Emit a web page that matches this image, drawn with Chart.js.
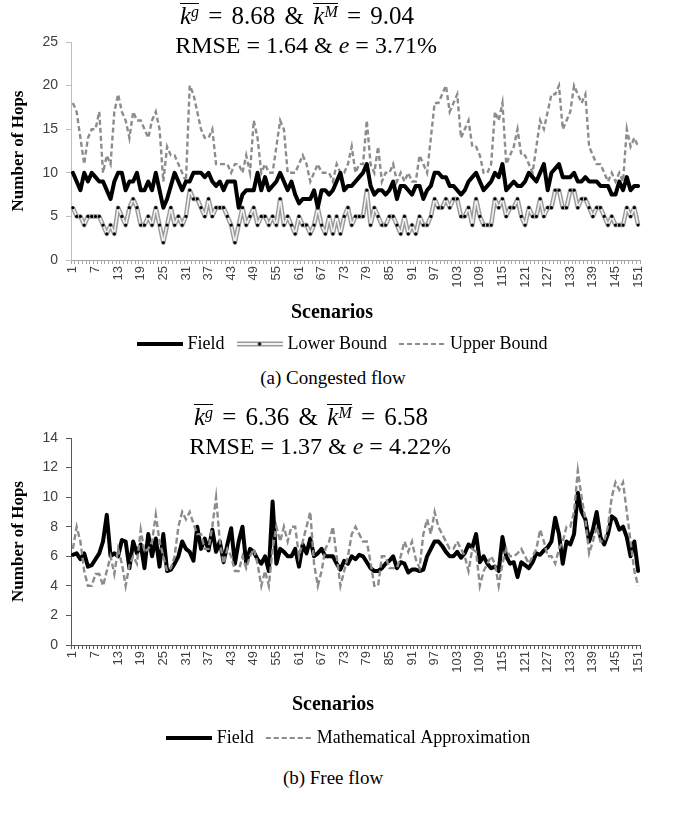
<!DOCTYPE html>
<html><head><meta charset="utf-8">
<script src="https://cdn.jsdelivr.net/npm/chart.js@4.4.1/dist/chart.umd.min.js"></script>
<style>
html,body{margin:0;padding:0;background:#fff;}
body{width:674px;height:823px;position:relative;overflow:hidden;font-family:'Liberation Serif','Times New Roman',serif;color:#000;}
.box{position:absolute;left:0;width:674px;}
.ttl{position:absolute;width:674px;text-align:center;font-family:'Liberation Serif','Times New Roman',serif;font-size:24px;line-height:26px;white-space:nowrap;}
.t1{font-size:25px;word-spacing:3px;}
.ov{display:inline-block;border-top:1.4px solid #000;line-height:22px;padding-top:1px;word-spacing:0;}
.ov sup{font-size:16px;vertical-align:7px;line-height:0;font-style:italic;}
.cap{position:absolute;width:674px;text-align:center;font-family:'Liberation Serif','Times New Roman',serif;font-size:19px;line-height:22px;white-space:nowrap;}
.xt{position:absolute;width:674px;text-align:center;font-family:'Liberation Serif','Times New Roman',serif;font-size:20px;font-weight:bold;line-height:24px;}
</style></head>
<body>
<div class="box" style="top:0;height:364px"><canvas id="c1"></canvas></div>
<div class="box" style="top:396px;height:362px"><canvas id="c2"></canvas></div>

<div class="ttl t1" style="top:3px;left:-40px"><span class="ov"><i>k</i><sup>g</sup></span> = 8.68 &amp; <span class="ov"><i>k</i><sup>M</sup></span> = 9.04</div>
<div class="ttl" style="top:32px;left:-31px">RMSE = 1.64 &amp; <i>e</i> = 3.71%</div>
<div class="xt" style="top:299px;left:-5px">Scenarios</div>
<div class="cap" style="top:367px;left:-4px">(a) Congested flow</div>

<div class="ttl t1" style="top:404px;left:-26px"><span class="ov"><i>k</i><sup>g</sup></span> = 6.36 &amp; <span class="ov"><i>k</i><sup>M</sup></span> = 6.58</div>
<div class="ttl" style="top:433px;left:-17px">RMSE = 1.37 &amp; <i>e</i> = 4.22%</div>
<div class="xt" style="top:691px;left:-4px">Scenarios</div>
<div class="cap" style="top:767px;left:-4px">(b) Free flow</div>

<script>
const scenarios = Array.from({length:151}, (_, i) => String(i + 1));
const shownTicks = [1,7,13,19,25,31,37,43,49,55,61,67,73,79,85,91,97,103,109,115,121,127,133,139,145,151];

const congestedField = [10,9,8,10,9,10,9.5,9,9,8,7,9,10,10,8,9,9,10,8,8,9,8,10,8,6,7,8.5,10,9,8,9,9,10,10,10,9.5,10,9,8.5,9,8,9,9,9,6,7.5,8,8,8,10,8,9.5,8,8.5,9,10,9,8,9,7.5,6.5,7,7,7,8,6,8,8,7.5,8,9,10,8,8.5,8.5,9,9.5,10,11,8.5,7.5,8,8,7.5,8,9,7,8.5,8.5,8,7.5,8.5,8.5,7,8,8.5,10,10,9.5,9.5,8.5,8.5,8,7.5,8,9,9.5,10,9,8,8.5,9,10,9.5,11,8,8.5,9,8.5,8.5,9,10,9.5,9,10,11,8,10,10.5,11,9.5,9.5,9.5,10,9,9,9.5,9,9,9,8.5,8.5,8.5,7.5,7.5,9,8,9.5,8,8.5,8.5];
const congestedLower = [6,5,5,4,5,5,5,5,4,3,4,3,6,5,4,6,7,6,4,4,5,4,6,4,2,4,6,4,5,4,5,8,7,7,6,5,7,5,6,6,6,5,4,2,4,6,4,5,6,4,5,5,4,5,4,7,4,5,4,3,5,4,4,3,4,6,4,3,5,3,5,3,5,6,4,5,5,5,8,4,6,5,4,4,5,5,4,3,5,3,4,3,5,4,4,5,7,6,6,7,6,7,7,5,5,6,4,7,5,4,4,4,7,6,7,5,6,6,7,5,4,6,5,5,7,5,6,6,8,8,6,6,8,8,6,7,7,6,5,6,6,5,4,5,4,4,4,6,5,6,4];
const congestedUpper = [18,17,14,11,14,15,15,17,10,12,11,17,19,17,16,14,17,16,16,15,14,16,17,15,9,13,12,12,11,10,9,20,19,17,15,14,14,15,11,11,11,11,10,11,11,10,12,10,16,14,10,11,10,10,13,16,15,10,10,10,11,12,11,9,10,11,10,10,10,9,11,10,10,11,13,10,11,11,16,11,10,13,9,10,10,11,9,10,9,10,9,9,12,11,10,14,18,18,19,20,17,18,19,14,15,16,13,13,12,10,10,11,17,16,18,11,12,13,15,12,12,11,10,13,16,15,17,19,19,20,15,16,17,20,19,18,19,13,12,11,11,10,9,10,9,10,9,15,13,14,13];

const freeField = [6.1,6.2,5.8,6.2,5.3,5.4,5.8,6.2,7,8.8,6,6.2,6,7.1,7,5.2,7,6.2,6.8,5.2,7.5,6,7.2,5.3,7.5,5,5.1,5.5,6,7,6.5,6.3,5.7,8,6.5,7.2,6.4,7.8,6.3,7,5.6,6.8,7.9,5.5,7,8,5.5,6.5,6.3,5.8,5.5,6,5,9.7,5.5,6.5,6.3,6,6,6.5,5.3,6.8,6.2,7.2,6,6.2,6.5,6,6,6,5.5,5.1,5.7,5.5,6,5.8,6.1,6,5.6,5.2,5,5,5.2,5.5,5.7,6,5.2,5.6,5.5,4.9,5.1,5.1,5,5.1,6,6.5,7,7,6.7,6.3,6,6,6.3,5.9,6.2,6.8,6.6,7.5,5.6,6,5.5,5.2,5.3,5,7.3,6,5.5,5.6,4.6,5.6,5.4,5.2,5.6,6.2,6.1,6.4,6.6,7,8.6,7.5,5.5,7,6.8,7.5,10.3,9,8.5,7,7.8,9,7.3,6.8,7.5,8.7,8.5,7.8,8,7.3,6,7,5];
const freeApprox = [6.5,8,7,5,4,4,4.8,4.8,4,5,6,4.8,6.5,5.5,4,5.4,6,5.5,7.8,6.3,6.5,7,8.8,7,6,5,5.2,6,8,9,8.5,9,8.2,7.5,7.5,6.5,6.5,8,10,7,5.5,6.5,6,5,5,6,5.2,6,6.5,5.5,4,5,4,6.5,8,7,8,7,8,8,6,7,8,9,5.5,4,5,6.5,7,8,6,4,5,6,7.5,8,7.5,7,7,5.6,4,4,6,6,5.2,5.2,5.2,6,7,6.3,7,5.8,5.2,7.5,8.5,7.5,9,8,7.5,7,6.5,6.5,7,6.5,6,5,6.5,6.3,4,5,5.5,6,5.5,4,5.5,6.5,6,6,6.2,6.5,6,5.5,6,6.5,7.8,7,6,6,5.5,6.5,7,8,8,9,11.8,10,8.5,6.2,7,8,7,7,8,10,11,10.5,11,9,7,5,4];

function legendImg(draw) {
  const c = document.createElement('canvas');
  c.width = 46; c.height = 10;
  const g = c.getContext('2d');
  draw(g);
  return c;
}
const imgField = legendImg(g => { g.strokeStyle = '#000'; g.lineWidth = 4; g.beginPath(); g.moveTo(0,5); g.lineTo(46,5); g.stroke(); });
const imgLower = legendImg(g => {
  g.strokeStyle = '#9b9b9b'; g.lineWidth = 5; g.beginPath(); g.moveTo(0,5); g.lineTo(46,5); g.stroke();
  g.strokeStyle = '#f4f4f4'; g.lineWidth = 1.8; g.beginPath(); g.moveTo(0,5); g.lineTo(46,5); g.stroke();
  g.fillStyle = '#000'; g.beginPath(); g.arc(23,5,1.7,0,Math.PI*2); g.fill();
});
const imgDash = legendImg(g => { g.strokeStyle = '#8c8c8c'; g.lineWidth = 2.2; g.setLineDash([5,3]); g.beginPath(); g.moveTo(0,5); g.lineTo(46,5); g.stroke(); });

const legendShift = {
  id: 'legendShift',
  afterLayout(chart, args, opts) {
    const L = chart.legend;
    if (L && opts.dx) { L.left += opts.dx; L.right += opts.dx; }
  }
};

function xScale(axisColor, xh) {
  return {
    type: 'category', offset: true,
    grid: {display: true, offset: true, drawOnChartArea: false, drawTicks: true, tickLength: 4, color: axisColor},
    border: {display: true, color: axisColor, width: 1},
    ticks: {autoSkip: false, minRotation: 90, maxRotation: 90, padding: 2, color: '#404040',
      font: {family: 'Liberation Sans', size: 13},
      callback: (v, i) => shownTicks.includes(i + 1) ? scenarios[i] : ''},
    afterFit: s => { s.height = xh; }
  };
}
function yScale(axisColor, max, step) {
  return {
    min: 0, max: max,
    ticks: {stepSize: step, padding: 8, color: '#404040', font: {family: 'Liberation Sans', size: 14}},
    grid: {display: true, drawOnChartArea: false, drawTicks: true, tickLength: 5, color: axisColor},
    border: {display: true, color: axisColor, width: 1},
    title: {display: true, text: 'Number of Hops', color: '#000',
      font: {family: 'Liberation Serif', size: 17, weight: 'bold'}, padding: {top: 8, bottom: 0}},
    afterFit: s => { s.width = 71; }
  };
}
function legendOpts() {
  return {
    position: 'bottom',
    labels: {usePointStyle: true, pointStyleWidth: 38, color: '#000', padding: 16,
      font: {family: 'Liberation Serif', size: 18},
      filter: item => item.text !== '',
      sort: (a, b) => a.datasetIndex - b.datasetIndex}
  };
}

new Chart(document.getElementById('c1'), {
  type: 'line',
  data: {
    labels: scenarios,
    datasets: [
      {label: 'Field', data: congestedField, borderColor: '#000', borderWidth: 4, pointRadius: 0,
        pointStyle: imgField, borderJoinStyle: 'round', borderCapStyle: 'round', order: 0},
      {label: 'Lower Bound', data: congestedLower, borderColor: '#9b9b9b', borderWidth: 4.5, pointRadius: 0,
        pointStyle: imgLower, borderJoinStyle: 'round', order: 2},
      {label: 'Upper Bound', data: congestedUpper, borderColor: '#8c8c8c', borderWidth: 2.4, borderDash: [5, 3],
        pointRadius: 0, pointStyle: imgDash, order: 3},
      {label: '', data: congestedLower, borderColor: '#f2f2f2', borderWidth: 1.6, pointRadius: 1.6,
        pointBackgroundColor: '#000', pointBorderWidth: 0, borderJoinStyle: 'round', order: 1}
    ]
  },
  options: {
    responsive: true, maintainAspectRatio: false, animation: false,
    layout: {padding: {top: 42, right: 34, bottom: 1, left: 0}},
    scales: {x: xScale('#a6a6a6', 59), y: yScale('#bfbfbf', 25, 5)},
    plugins: {legend: legendOpts(), tooltip: {enabled: false}, legendShift: {dx: 24}}
  },
  plugins: [legendShift]
});

new Chart(document.getElementById('c2'), {
  type: 'line',
  data: {
    labels: scenarios,
    datasets: [
      {label: 'Field', data: freeField, borderColor: '#000', borderWidth: 4, pointRadius: 0,
        pointStyle: imgField, borderJoinStyle: 'round', borderCapStyle: 'round', order: 1},
      {label: 'Mathematical Approximation', data: freeApprox, borderColor: '#8c8c8c', borderWidth: 2.4,
        borderDash: [6, 3], pointRadius: 0, pointStyle: imgDash, order: 0}
    ]
  },
  options: {
    responsive: true, maintainAspectRatio: false, animation: false,
    layout: {padding: {top: 42, right: 34, bottom: 1, left: 0}},
    scales: {x: xScale('#595959', 68), y: yScale('#595959', 14, 2)},
    plugins: {legend: legendOpts(), tooltip: {enabled: false}, legendShift: {dx: 30}}
  },
  plugins: [legendShift]
});
</script>
</body></html>
